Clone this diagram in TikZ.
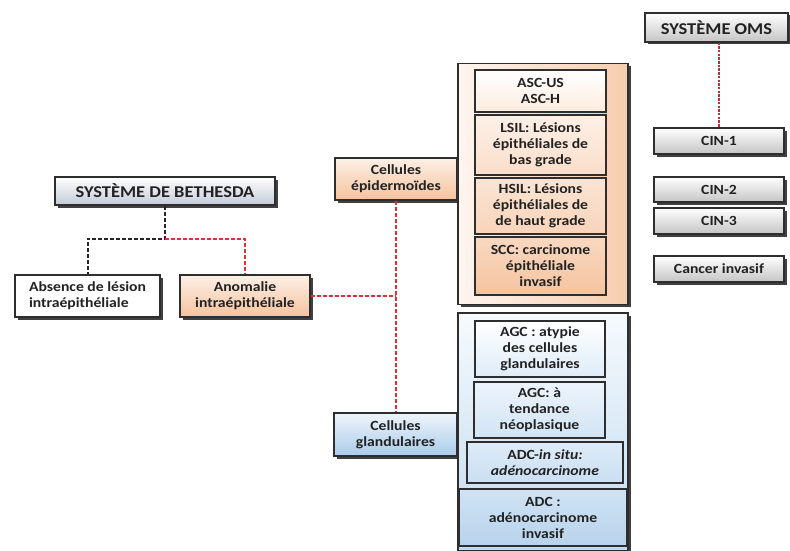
\documentclass[tikz,border=0pt]{standalone}
\usepackage{fontspec}
\setmainfont[FakeStretch=1.12]{Carlito}
\usetikzlibrary{shadows}
\definecolor{txt}{HTML}{222222}
\definecolor{bord}{HTML}{2E2E2E}
\definecolor{dred}{HTML}{E0303A}
\definecolor{ored}{HTML}{B8303E}
\definecolor{orT}{HTML}{FDF0E6}
\definecolor{orB}{HTML}{F5C29E}
\definecolor{blT}{HTML}{EEF5FB}
\definecolor{blB}{HTML}{A9CBEA}
\definecolor{bethB}{HTML}{C3CBD8}
\definecolor{pnlL}{HTML}{FEF5EF}
\definecolor{pnlR}{HTML}{F6CDAE}
\definecolor{bpT}{HTML}{F6FAFD}
\definecolor{bpB}{HTML}{C0DAEF}
\definecolor{o1B}{HTML}{FCECDF}
\definecolor{o2T}{HTML}{FDF0E6}
\definecolor{o2B}{HTML}{FADECA}
\definecolor{o3T}{HTML}{FBE4D4}
\definecolor{o3B}{HTML}{F8D4BA}
\definecolor{o4T}{HTML}{F9D8C0}
\definecolor{o4B}{HTML}{F5C4A0}
\definecolor{b1B}{HTML}{DEECF8}
\definecolor{b2T}{HTML}{ECF4FB}
\definecolor{b2B}{HTML}{D2E4F5}
\definecolor{b3T}{HTML}{DEEBF7}
\definecolor{b3B}{HTML}{CADFF2}
\definecolor{b4T}{HTML}{D0E3F4}
\definecolor{b4B}{HTML}{B8D3EC}
\begin{document}
\begin{tikzpicture}[x=1pt,y=-1pt,
  font={\fontsize{14}{16}\selectfont\bfseries}, text=txt,
  box/.style={draw=bord, line width=1.2pt, inner sep=0pt, align=center},
  shad/.style={drop shadow={shadow xshift=2.5pt, shadow yshift=-2.5pt, fill=black, opacity=0.75}},
  grey/.style={box, shad, top color=white, bottom color=black!23},
  orng/.style={box, shad, top color=orT, bottom color=orB},
  blu/.style={box, shad, top color=blT, bottom color=blB},
  title/.style={font={\fontsize{16.5}{18}\selectfont\bfseries}},
  rdash/.style={draw=dred, line width=2pt, dash pattern=on 4pt off 2pt},
  kdash/.style={draw=black!85, line width=2pt, dash pattern=on 4pt off 2pt},
  odash/.style={draw=ored, line width=2pt, dash pattern=on 2.5pt off 1.2pt},
]
\useasboundingbox (0,0) rectangle (790,551);
\fill[white] (0,0) rectangle (790,551);

% Bethesda side
\node[box, shad, top color=white, bottom color=bethB, title, minimum width=220pt, minimum height=28pt] (beth) at (165,191) {SYSTÈME DE BETHESDA};
\node[box, shad, fill=white, align=left, minimum width=145pt, minimum height=42pt] (abs) at (87.5,296) {Absence de lésion\\intraépithéliale};
\node[orng, minimum width=130pt, minimum height=42pt] (anom) at (245,296) {Anomalie\\intraépithéliale};
\node[orng, minimum width=122pt, minimum height=42pt] (epi) at (396,179) {Cellules\\épidermoïdes};
\node[blu, minimum width=123pt, minimum height=43pt] (gland) at (395.5,434.5) {Cellules\\glandulaires};

% Orange panel
\node[box, shad, left color=pnlL, right color=pnlR, minimum width=170pt, minimum height=241pt] (opan) at (543,184) {};
\node[box, top color=white, bottom color=o1B, minimum width=131pt, minimum height=42pt] (asc) at (540.5,91) {ASC-US\\ASC-H};
\node[box, top color=o2T, bottom color=o2B, minimum width=131pt, minimum height=60pt] (lsil) at (540.5,145) {LSIL: Lésions\\épithéliales de\\bas grade};
\node[box, top color=o3T, bottom color=o3B, minimum width=131pt, minimum height=56pt] (hsil) at (540.5,206) {HSIL: Lésions\\épithéliales de\\de haut grade};
\node[box, top color=o4T, bottom color=o4B, minimum width=131pt, minimum height=58pt] (scc) at (540.5,266) {SCC: carcinome\\épithéliale\\invasif};

% Blue panel
\node[box, shad, top color=bpT, bottom color=bpB, minimum width=170pt, minimum height=238pt] (bpan) at (543,432) {};
\node[box, top color=white, bottom color=b1B, minimum width=130pt, minimum height=56pt] (agc1) at (540,349) {AGC : atypie\\des cellules\\glandulaires};
\node[box, top color=b2T, bottom color=b2B, minimum width=131pt, minimum height=56pt] (agc2) at (539.5,410) {AGC: à\\tendance\\néoplasique};
\node[box, top color=b3T, bottom color=b3B, minimum width=156pt, minimum height=41pt] (adcis) at (545,462.5) {ADC-\textit{in situ:}\\\textit{adénocarcinome}};
\node[box, top color=b4T, bottom color=b4B, minimum width=168pt, minimum height=57pt] (adc) at (543,517.5) {ADC :\\adénocarcinome\\invasif};

% OMS side
\node[grey, title, minimum width=143pt, minimum height=29pt] (oms) at (716.5,27.5) {SYSTÈME OMS};
\node[grey, minimum width=130pt, minimum height=26pt] (cin1) at (719,141) {CIN-1};
\node[grey, minimum width=130pt, minimum height=25pt] (cin2) at (719,189.5) {CIN-2};
\node[grey, minimum width=130pt, minimum height=26pt] (cin3) at (719,221) {CIN-3};
\node[grey, minimum width=130pt, minimum height=26pt] (canc) at (719,269) {Cancer invasif};

% connectors
\path (beth.south) ++(0,33) coordinate (bj);
\draw[kdash] (beth.south) -- (bj) -| (abs.north);
\draw[rdash] (bj) -| (anom.north);
\coordinate (vj) at (epi.south |- anom.east);
\draw[rdash] (anom.east) -- (vj);
\draw[rdash] (epi.south) -- (epi.south |- gland.north);
\draw[odash] (oms.south -| cin1.north) -- (cin1.north);
\end{tikzpicture}
\end{document}
